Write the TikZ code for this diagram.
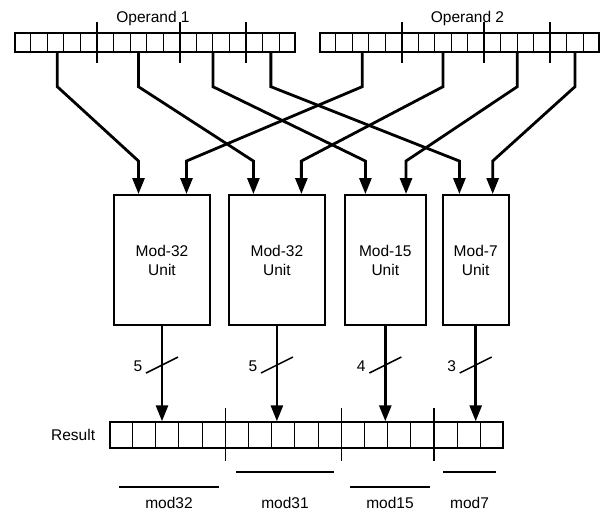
\documentclass[tikz,border=0pt]{standalone}
\usepackage{fontspec}
\setmainfont{Liberation Sans}
\usetikzlibrary{arrows.meta,positioning,calc}

\begin{document}
\begin{tikzpicture}[x=1pt, y=-1pt,
  reg/.style={draw, line width=1.4pt, minimum height=19pt, inner sep=0pt},
  unit/.style={draw, line width=1.9pt, minimum height=130pt, align=center, font=\fontsize{15.5}{19}\selectfont, inner sep=0pt},
  lbl/.style={font=\fontsize{15.5}{18}\selectfont, inner sep=1pt},
  bus/.style={line width=2.8pt, -{Triangle[length=16pt, width=12pt]}},
  cut/.style={line width=1.6pt},
  slash/.style={line width=1.5pt}]
\useasboundingbox (0,0) rectangle (605,518);
\node[reg, minimum width=280pt] (op1) at (155,42.5) {};
\node[reg, minimum width=279pt] (op2) at (459.5,42.5) {};
\node[reg, minimum width=393pt, minimum height=26pt] (res) at (306.5,435) {};
\node[lbl, above=5pt of op1, xshift=-2pt] (op1l) {Operand 1};
\node[lbl, above=5pt of op2, xshift=8pt] (op2l) {Operand 2};
\node[lbl, left=13pt of res] (resl) {Result};
\foreach \r in {op1,op2,res}
  \foreach \i in {1,...,16}
    \draw[line width=1pt] ($(\r.north west)!\i/17!(\r.north east)$) -- ($(\r.south west)!\i/17!(\r.south east)$);
\foreach \r in {op1,op2}
  \foreach \i in {5,10,14}
    \draw[cut] ($(\r.north west)!\i/17!(\r.north east)+(0,-10)$) -- ($(\r.south west)!\i/17!(\r.south east)+(0,10)$);
\foreach \i in {5,10,14}
  \draw[cut] ($(res.north west)!\i/17!(res.north east)+(0,-13)$) -- ($(res.south west)!\i/17!(res.south east)+(0,12)$);

\node[unit, minimum width=96pt] (u1) at (162,260) {Mod-32\\Unit};
\node[unit, minimum width=96pt, right=17pt of u1] (u2) {Mod-32\\Unit};
\node[unit, minimum width=81pt, right=18pt of u2] (u3) {Mod-15\\Unit};
\node[unit, minimum width=66pt, right=15pt of u3] (u4) {Mod-7\\Unit};

\foreach \r in {op1,op2}
  \foreach \k/\b in {1/2.6,2/7.5,3/12,4/15.5}
    \coordinate (\r t\k) at ($(\r.south west)!\b/17!(\r.south east)$);
\foreach \k in {1,...,4} {
  \coordinate (u\k a) at ($(u\k.north west)!0.26!(u\k.north east)$);
  \coordinate (u\k b) at ($(u\k.north west)!0.75!(u\k.north east)$);
  \draw[bus] (op1t\k) -- ++(0,34) -- ($(u\k a)+(0,-33)$) -- (u\k a);
  \draw[bus] (op2t\k) -- ++(0,34) -- ($(u\k b)+(0,-33)$) -- (u\k b);
}
\foreach \k/\w in {1/5,2/5,3/4,4/3} {
  \draw[bus] (u\k.south) -- coordinate[pos=0.41] (s\k) (u\k.south |- res.north);
  \draw[slash] ($(s\k)+(-16,8)$) -- ($(s\k)+(16,-8)$);
  \node[lbl] (w\k) at ($(s\k)+(-24,1)$) {\w};
}
\foreach \a/\b/\y/\t in {119/219/487/mod32, 236/334/472/mod31, 350/430/487/mod15, 443/496/472/mod7} {
  \draw[slash] (\a,\y) -- (\b,\y);
  \node[lbl] (\t) at ({(\a+\b)/2},503) {\t};
}
\end{tikzpicture}
\end{document}
